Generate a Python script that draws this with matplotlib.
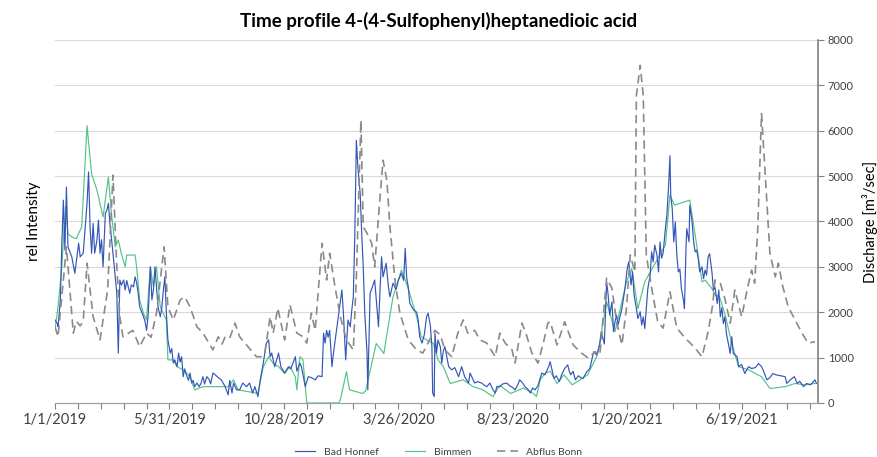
'''
Time profile of 4-(4-Sulfophenyl)heptanedioic acid vs. Rhine discharge.
'''
import numpy as np
import pandas as pd
import matplotlib
matplotlib.use('Agg')
import matplotlib.pyplot as plt

plt.rcParams['font.family'] = ['Lato', 'DejaVu Sans']

##############################################################################
# data (days after 1/1/2019)

start = pd.Timestamp('2019-01-01')

honnef_day = [0, 3, 4, 7, 9, 11, 13, 15, 17, 22, 26, 31, 33, 37, 39, 42, 44,
              46, 48, 50, 52, 55, 57, 59, 61, 63, 66, 68, 70, 72, 76, 81, 83,
              85, 87, 90, 92, 94, 98, 100, 103, 105, 107, 109, 111, 116, 118,
              120, 122, 125, 127, 129, 131, 133, 135, 138, 140, 142, 144, 146,
              148, 151, 153, 155, 157, 160, 162, 164, 166, 168, 170, 173, 175,
              177, 179, 181, 183, 186, 189, 191, 194, 196, 199, 202, 204, 207,
              210, 214, 218, 223, 227, 229, 232, 234, 238, 242, 246, 251, 255,
              259, 262, 266, 269, 273, 277, 280, 282, 284, 288, 293, 296, 301,
              306, 309, 315, 317, 321, 323, 328, 332, 336, 341, 345, 350, 352,
              354, 356, 358, 360, 363, 365, 369, 372, 376, 378, 381, 384, 387,
              389, 391, 393, 395, 397, 400, 402, 404, 406, 409, 410, 413, 416,
              419, 424, 426, 428, 430, 434, 437, 439, 443, 447, 450, 454, 457,
              459, 461, 463, 465, 470, 474, 476, 478, 481, 484, 487, 489, 492,
              494, 495, 497, 498, 500, 502, 505, 507, 509, 511, 516, 520, 524,
              529, 533, 537, 542, 544, 548, 550, 554, 559, 562, 566, 570, 574,
              577, 579, 583, 587, 592, 596, 600, 603, 607, 609, 612, 616, 620,
              623, 626, 629, 633, 638, 642, 647, 649, 654, 657, 661, 664, 668,
              672, 674, 676, 679, 682, 686, 689, 692, 697, 701, 706, 710, 714,
              716, 720, 723, 725, 727, 730, 732, 734, 736, 738, 743, 747, 750,
              752, 755, 757, 759, 762, 764, 767, 769, 771, 773, 775, 777, 780,
              782, 784, 786, 789, 791, 793, 795, 797, 800, 802, 804, 806, 807,
              809, 811, 813, 815, 817, 819, 821, 824, 825, 827, 828, 831, 832,
              835, 837, 839, 841, 843, 845, 848, 850, 852, 854, 856, 858, 861,
              863, 865, 868, 870, 872, 874, 876, 878, 880, 885, 887, 889, 894,
              896, 900, 904, 909, 913, 918, 922, 926, 928, 933, 937, 941, 945,
              957, 959, 963, 969, 973, 976, 981, 985, 990, 993, 996, 998]
honnef_val = [1830, 1750, 1680, 2270, 3520, 4470, 3370, 4760, 3440, 3220, 2860,
              3520, 3220, 3300, 3740, 4400, 5090, 3880, 3300, 3960, 3300, 3590,
              4030, 3300, 3600, 3000, 4180, 4250, 4400, 3960, 3300, 2420, 1100,
              2710, 2600, 2710, 2490, 2700, 2420, 2600, 2560, 2780, 2650, 2420,
              2120, 1900, 1800, 1600, 1900, 3000, 2270, 2500, 3000, 2560, 2120,
              1900, 2100, 2490, 2780, 1980, 1390, 1100, 1200, 880, 950, 800,
              1100, 900, 1020, 580, 750, 580, 500, 660, 440, 500, 360, 440,
              360, 420, 580, 420, 580, 520, 420, 660, 620, 560, 510, 360, 180,
              500, 220, 440, 290, 290, 440, 360, 440, 220, 360, 140, 510, 880,
              1320, 1390, 1020, 1100, 800, 1100, 800, 660, 800, 750, 1020, 700,
              880, 800, 360, 580, 560, 510, 600, 580, 1540, 1320, 1600, 1450,
              1600, 800, 1100, 1600, 1980, 2490, 1980, 950, 1830, 1680, 2050,
              2340, 3740, 5790, 5200, 4610, 3740, 3000, 1980, 1100, 290, 2420,
              2560, 2710, 1680, 2490, 3220, 2780, 3080, 2560, 2340, 2640, 2500,
              2700, 2860, 2700, 3410, 2750, 2560, 2200, 2050, 2000, 1830, 1460,
              1320, 1500, 1900, 1980, 1700, 1240, 220, 140, 1540, 1100, 1390,
              1240, 880, 1150, 1240, 800, 730, 780, 580, 800, 580, 440, 660,
              510, 440, 470, 440, 400, 360, 440, 290, 220, 360, 360, 420, 440,
              380, 340, 290, 420, 510, 460, 360, 300, 220, 330, 290, 380, 660,
              620, 800, 910, 540, 600, 470, 620, 760, 840, 700, 620, 700, 510,
              600, 560, 540, 690, 760, 1130, 1060, 1280, 1570, 1300, 2670, 2380,
              1940, 2230, 1570, 1790, 1940, 1720, 2080, 2520, 2960, 3110, 2600,
              2890, 2380, 2080, 1860, 2010, 1720, 1900, 1640, 2080, 2520, 2820,
              3330, 3110, 3480, 3260, 2890, 3550, 3190, 3300, 3840, 4140, 4720,
              5450, 4580, 4280, 3550, 3990, 3260, 2890, 2950, 2520, 2230, 2080,
              3400, 3840, 3550, 4360, 3990, 3550, 3330, 3370, 3190, 2890, 3000,
              2740, 2930, 2820, 3220, 3290, 2890, 2490, 2550, 2190, 2490, 1900,
              2100, 1750, 1900, 1530, 1090, 1460, 1090, 1020, 800, 850, 650,
              800, 760, 780, 870, 800, 730, 510, 560, 650, 620, 580, 430, 500,
              580, 430, 480, 360, 430, 400, 450, 510, 430]

bimmen_day = [0, 4, 9, 11, 14, 17, 22, 28, 35, 42, 48, 55, 63, 70, 74, 79, 83,
              87, 92, 94, 105, 107, 111, 116, 120, 125, 129, 133, 138, 142,
              146, 148, 155, 160, 168, 177, 183, 194, 207, 216, 227, 234, 240,
              266, 273, 280, 286, 293, 301, 308, 315, 317, 321, 325, 330, 372,
              374, 382, 386, 403, 407, 421, 431, 443, 454, 459, 465, 474, 480,
              487, 496, 502, 509, 518, 535, 548, 561, 574, 583, 597, 614, 627,
              631, 636, 642, 649, 658, 667, 678, 698, 711, 723, 734, 749, 756,
              764, 773, 800, 806, 812, 832, 837, 841, 848, 852, 861, 865, 871,
              879, 887, 896, 909, 926, 937, 957, 970, 983, 996]
bimmen_val = [1610, 2120, 3000, 3590, 4320, 3730, 3660, 3620, 3880, 6110, 5050,
              4690, 4100, 4980, 4170, 3440, 3590, 3290, 3000, 3260, 3260, 3000,
              2270, 1970, 1830, 3000, 2560, 3000, 2120, 1970, 1830, 950, 950,
              800, 730, 580, 290, 360, 360, 360, 360, 510, 290, 210, 800, 1020,
              870, 800, 650, 800, 580, 290, 1020, 950, 0, 0, 70, 690, 290, 210,
              260, 1310, 1090, 2340, 2930, 2710, 2410, 1900, 1460, 1390, 1310,
              950, 800, 430, 510, 360, 290, 140, 390, 210, 330, 210, 140, 510,
              650, 700, 430, 620, 400, 620, 1060, 2230, 1570, 2670, 2960, 2080,
              2670, 3480, 4580, 4360, 4470, 3920, 3480, 2670, 2710, 2520, 2380,
              2340, 1900, 1310, 800, 730, 580, 320, 360, 430, 400, 430]

bonn_day = [0, 4, 15, 24, 28, 33, 37, 42, 50, 59, 69, 76, 81, 85, 89, 102, 111,
            120, 126, 133, 143, 148, 155, 164, 170, 177, 186, 194, 207, 214,
            219, 223, 229, 236, 242, 253, 264, 271, 275, 282, 286, 292, 301,
            308, 317, 325, 330, 336, 341, 350, 356, 360, 367, 374, 382, 391,
            395, 401, 404, 409, 415, 419, 426, 430, 435, 439, 446, 452, 463,
            474, 482, 491, 498, 505, 511, 520, 528, 535, 541, 550, 557, 566,
            577, 583, 590, 599, 603, 612, 617, 625, 633, 640, 646, 649, 658,
            668, 679, 690, 699, 708, 714, 723, 730, 736, 743, 749, 754, 760,
            762, 767, 771, 775, 782, 790, 797, 806, 815, 826, 839, 848, 856,
            862, 865, 872, 878, 885, 891, 900, 908, 913, 917, 921, 926, 930,
            937, 944, 948, 954, 961, 970, 979, 987, 996]
bonn_val = [1680, 1460, 3440, 1540, 1800, 1700, 1800, 3080, 1900, 1390, 2490,
            5020, 3000, 1900, 1460, 1600, 1240, 1540, 1450, 1980, 3440, 2120,
            1830, 2270, 2340, 2120, 1680, 1540, 1170, 1460, 1300, 1460, 1430,
            1760, 1460, 1240, 1020, 1020, 1100, 1900, 1540, 2090, 1390, 2160,
            1540, 1460, 1320, 1980, 1600, 3520, 2710, 3300, 2560, 1900, 1390,
            1170, 2780, 6230, 3880, 3740, 3520, 3000, 4540, 5350, 4900, 3880,
            2640, 1980, 1390, 1170, 1100, 1390, 1600, 1500, 1170, 1020, 1540,
            1830, 1540, 1600, 1390, 1320, 1020, 1540, 1320, 1170, 880, 1760,
            1550, 1100, 880, 1320, 1760, 1790, 1280, 1790, 1280, 1100, 990,
            1130, 1050, 2750, 2530, 1790, 1280, 2090, 3260, 2890, 6780, 7440,
            6780, 3260, 2530, 1790, 1650, 2450, 1650, 1430, 1210, 1020, 1570,
            2160, 2710, 2640, 2300, 1760, 2490, 1900, 2560, 2930, 2640, 3810,
            6380, 5280, 3300, 2780, 3080, 2560, 2120, 1830, 1540, 1320, 1350]

discharge_ticks = [0, 1000, 2000, 3000, 4000, 5000, 6000, 7000, 8000]

##############################################################################

def to_dates(days):
    return start + pd.to_timedelta(np.asarray(days), unit='D')


fig = plt.figure(figsize=(8.77, 4.57), dpi=100)
ax = fig.add_axes([0.0627, 0.1182, 0.8700, 0.7943])
ax2 = ax.twinx()

ax.plot(to_dates(honnef_day), honnef_val, color='#3456b8', lw=0.85,
        label='Bad Honnef', zorder=3)
ax.plot(to_dates(bimmen_day), bimmen_val, color='#52c488', lw=0.85,
        label='Bimmen', zorder=2)
ax2.plot(to_dates(bonn_day), bonn_val, color='#8a8a8a', lw=1.2,
         ls=(0, (5, 3)), label='Abflus Bonn')

# rel intensity axis: no scale shown, only grid
ax.set_ylim(0, 8000)
ax.set_yticks(discharge_ticks[1:])
ax.yaxis.set_tick_params(length=0, labelleft=False)
ax.grid(axis='y', color='#d9d9d9', lw=0.8)
ax.set_ylabel('rel Intensity', fontsize=11, labelpad=10)

ax2.set_ylim(0, 8000)
ax2.set_yticks(discharge_ticks)
ax2.tick_params(axis='y', length=4, width=0.8, color='#808080',
                labelsize=8, labelcolor='#404040', pad=3)
ax2.set_ylabel('Discharge [m³/sec]', fontsize=10.5, labelpad=6)

# date axis: ticks every 30 days, label every fifth
tick_dates = to_dates(np.arange(0, 1000, 30))
ax.set_xlim(start, start + pd.Timedelta(days=1000))
ax.set_xticks(tick_dates)
ax.set_xticklabels(['%d/%d/%d' % (d.month, d.day, d.year) if i % 5 == 0
                    else '' for i, d in enumerate(tick_dates)])
ax.tick_params(axis='x', length=4, width=0.8, color='#808080',
               labelsize=10.5, labelcolor='#404040', pad=3)

for a in (ax, ax2):
    a.spines['top'].set_visible(False)
    a.spines['left'].set_visible(False)
    a.spines['right'].set_visible(False)
    a.spines['bottom'].set_color('#a0a0a0')
ax2.spines['right'].set_visible(True)
ax2.spines['right'].set_color('#808080')
ax2.spines['right'].set_linewidth(1.2)

fig.suptitle('Time profile 4-(4-Sulfophenyl)heptanedioic acid',
             fontsize=13.5, fontweight='bold', y=0.975)

handles = ax.get_lines() + ax2.get_lines()
fig.legend(handles, [h.get_label() for h in handles], loc='lower center',
           bbox_to_anchor=(0.5, -0.02), ncol=3, frameon=False, fontsize=7.5,
           handlelength=2.0, columnspacing=2.5, labelcolor='#404040')

fig.savefig('out.png', dpi=100)
